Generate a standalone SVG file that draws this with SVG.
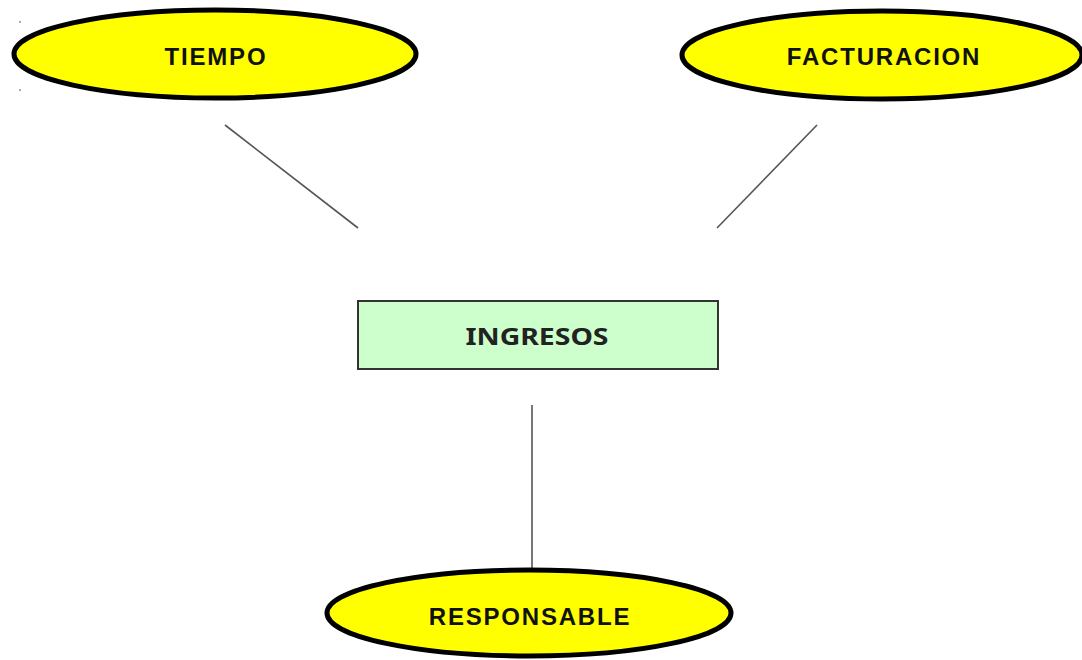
<svg xmlns="http://www.w3.org/2000/svg" width="1082" height="660" viewBox="0 0 1082 660">
  <style>
    .attr ellipse { fill: #ffff00; stroke: #000; stroke-width: 5; }
    .attr text { font-family: "Liberation Sans", Arial, sans-serif; font-weight: bold; font-size: 24px; letter-spacing: 1.8px; fill: #111; text-anchor: middle; }
    .fact rect { fill: #ccffcc; stroke: #333; stroke-width: 2; }
    .fact text { font-family: "Noto Sans", "Liberation Sans", sans-serif; font-weight: bold; font-size: 24px; fill: #222; text-anchor: middle; }
    .links line { stroke: #555; stroke-width: 1.6; }
  </style>
  <rect width="1082" height="660" fill="#fff"/>
  <rect x="19" y="21" width="2" height="2" fill="#aaa"/>
  <rect x="19" y="89" width="2" height="2" fill="#aaa"/>

  <g class="links">
    <line x1="225" y1="125" x2="358" y2="228"/>
    <line x1="817" y1="125" x2="717" y2="228"/>
    <line x1="532" y1="405" x2="532" y2="569"/>
  </g>

  <g id="tiempo" class="attr">
    <ellipse cx="215" cy="54" rx="201" ry="44"/>
    <text x="216" y="65">TIEMPO</text>
  </g>

  <g id="facturacion" class="attr">
    <ellipse cx="882" cy="55" rx="200" ry="44"/>
    <text x="884" y="65">FACTURACION</text>
  </g>

  <g id="ingresos" class="fact">
    <rect x="358" y="301" width="360" height="68"/>
    <text x="537" y="345" textLength="143" lengthAdjust="spacingAndGlyphs">INGRESOS</text>
  </g>

  <g id="responsable" class="attr">
    <ellipse cx="529" cy="613" rx="202" ry="43"/>
    <text x="530" y="625">RESPONSABLE</text>
  </g>
</svg>
